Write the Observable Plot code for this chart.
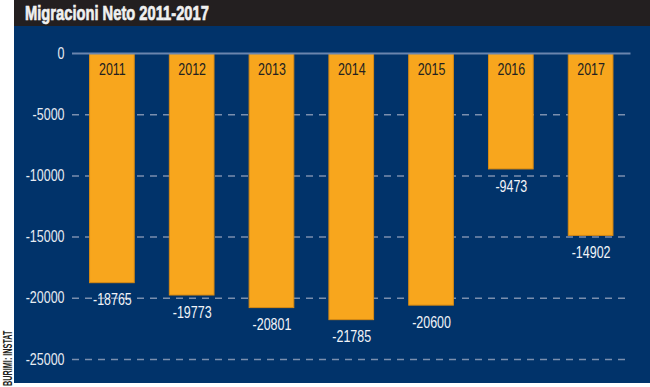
<!DOCTYPE html>
<html>
<head>
<meta charset="utf-8">
<script src="https://cdn.jsdelivr.net/npm/d3@7"></script>
<script src="https://cdn.jsdelivr.net/npm/@observablehq/plot@0.6"></script>
<style>
  html, body { margin: 0; padding: 0; background: #ffffff; }
  body { width: 650px; height: 387px; position: relative; overflow: hidden;
         font-family: "Liberation Sans", Arial, sans-serif; }
  #panel { position: absolute; left: 14px; top: 0; width: 636px; height: 383px; background: #01336a; }
  #title { position: absolute; left: 0; top: 0; width: 636px; height: 26px; background: #231f20; }
  #title span { position: absolute; left: 11px; top: 0; color: #f0f0f0; font-weight: bold; font-size: 21px;
                line-height: 26px; white-space: nowrap; transform-origin: 0 50%; transform: scaleX(0.70);
                -webkit-text-stroke: 0.7px #f0f0f0; }
  #chart { position: absolute; left: 0; top: 26px; }
  #source { position: absolute; left: 1px; top: 386px; transform-origin: 0 0; transform: rotate(-90deg) scaleX(0.56);
            font-size: 13px; font-weight: bold; color: #231f20; white-space: nowrap; line-height: 13px; }
</style>
</head>
<body>
<div id="panel">
  <div id="title"><span>Migracioni Neto 2011-2017</span></div>
  <div id="chart"></div>
</div>
<div id="source">BURIMI: INSTAT</div>
<script>
const years = ["2011", "2012", "2013", "2014", "2015", "2016", "2017"];
const values = [-18765, -19773, -20801, -21785, -20600, -9473, -14902];
const yTicks = [0, -5000, -10000, -15000, -20000, -25000];

const data = years.map((y, i) => ({year: y, value: values[i]}));
const font = '"Liberation Sans", Arial, sans-serif';

const chart = Plot.plot({
  width: 636,
  height: 357,
  marginTop: 27,
  marginBottom: 24,
  marginLeft: 58,
  marginRight: 19.5,
  style: {background: "#01336a", fontFamily: font, fontSize: "16px", overflow: "visible"},
  x: {domain: years, paddingInner: 0.44, paddingOuter: 0.22, round: false, axis: null},
  y: {domain: [-25000, 0], axis: null},
  marks: [
    Plot.ruleY(yTicks.filter(d => d !== 0), {stroke: "#7b8fae", strokeWidth: 1.5, strokeDasharray: "7,6"}),
    Plot.barY(data, {x: "year", y: "value", fill: "#f8a61d", stroke: "#d98a12", strokeWidth: 1, insetTop: 0.5}),
    Plot.ruleY([0], {stroke: "#6a85ae", strokeWidth: 2}),
    Plot.axisY(yTicks, {tickSize: 0, tickPadding: 8, label: null, tickFormat: d => String(d), fontSize: 16, fill: "#e8ecf2"}),
    Plot.text(data, {x: "year", y: 0, text: "year", dy: 16, fill: "#231f20", fontSize: 16}),
    Plot.text(data, {x: "year", y: "value", text: d => String(d.value), dy: 17, fill: "#f2f4f8", fontSize: 16})
  ]
});

// condensed look: squeeze glyphs horizontally around each text anchor
d3.select(chart).selectAll("text").each(function () {
  const t = this.getAttribute("transform");
  if (t) {
    this.setAttribute("transform", t + " scale(0.78,1)");
  } else {
    const x = +(this.getAttribute("x") || 0), y = +(this.getAttribute("y") || 0);
    this.setAttribute("x", 0);
    this.setAttribute("y", 0);
    this.setAttribute("transform", `translate(${x},${y}) scale(0.78,1)`);
  }
});

document.getElementById("chart").appendChild(chart);
</script>
</body>
</html>
